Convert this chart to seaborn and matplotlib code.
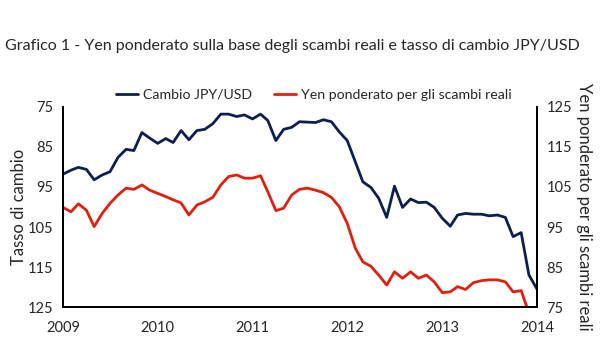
import matplotlib
matplotlib.use("Agg")
import matplotlib.pyplot as plt
import matplotlib.dates as mdates
import seaborn as sns
import pandas as pd

# monthly data, Jan 2009 - Jan 2014
cambio_jpy_usd = [91.8, 90.8, 90.1, 90.6, 93.2, 92.0, 91.2, 87.6, 85.6, 85.9,
                  81.4, 82.8, 84.1, 82.9, 83.9, 80.9, 83.2, 80.9, 80.6, 79.2,
                  76.8, 76.8, 77.4, 77.0, 78.0, 76.8, 78.4, 83.4, 80.6, 80.1,
                  78.7, 78.8, 78.9, 78.2, 78.7, 81.2, 83.4, 88.7, 93.7, 95.1,
                  97.8, 102.6, 94.8, 100.1, 98.0, 98.9, 98.8, 100.1, 102.8, 104.8,
                  102.0, 101.6, 101.8, 101.8, 102.2, 102.0, 102.6, 107.4, 106.4, 117.0,
                  120.5]
yen_ponderato = [99.9, 98.8, 100.8, 99.2, 95.1, 98.4, 100.9, 103.0, 104.7, 104.4,
                 105.5, 104.2, 103.4, 102.6, 101.8, 101.0, 98.0, 100.5, 101.3, 102.4,
                 105.5, 107.6, 108.0, 107.2, 107.2, 107.8, 103.8, 99.1, 99.7, 103.0,
                 104.4, 104.7, 104.2, 103.6, 102.4, 100.1, 95.9, 89.7, 86.3, 85.2,
                 83.0, 80.5, 83.8, 82.2, 83.8, 82.2, 83.0, 81.3, 78.6, 78.8,
                 80.1, 79.4, 81.1, 81.6, 81.8, 81.8, 81.3, 78.8, 79.1, 73.5]
date_blu = pd.date_range("2009-01-01", periods=len(cambio_jpy_usd), freq="MS")
date_rosso = date_blu[:len(yen_ponderato)]
anni = [2009, 2010, 2011, 2012, 2013, 2014]
tick_sx = [75, 85, 95, 105, 115, 125]

sns.set_style("white")
plt.rcParams["font.family"] = ["Lato", "DejaVu Sans"]

blu = "#0d1f4f"
rosso = "#e0200f"

fig, ax = plt.subplots(figsize=(6, 3.6), dpi=100)
fig.subplots_adjust(left=0.105, right=0.895, bottom=0.147, top=0.703)
ax2 = ax.twinx()

sns.lineplot(x=date_blu, y=cambio_jpy_usd, ax=ax, color=blu, lw=2.0,
             label="Cambio JPY/USD", legend=False)
sns.lineplot(x=date_rosso, y=yen_ponderato, ax=ax2, color=rosso, lw=2.0,
             label="Yen ponderato per gli scambi reali", legend=False)

ax.set_ylim(125, 75)
ax.set_yticks(tick_sx)
ax2.set_ylim(75, 125)
ax2.set_yticks(tick_sx)
ax.set_xlim(pd.Timestamp("2009-01-01"), pd.Timestamp("2014-01-01"))
ax.set_xticks([pd.Timestamp(f"{a}-01-01") for a in anni])
ax.xaxis.set_major_formatter(mdates.DateFormatter("%Y"))

for a in (ax, ax2):
    a.tick_params(length=0, labelsize=10.5, pad=7)
    a.grid(False)
    for s in a.spines.values():
        s.set_color("black")
        s.set_linewidth(1.3)
    a.spines["top"].set_visible(False)
ax.tick_params(axis="x", pad=10)

ax.set_ylabel("Tasso di cambio", fontsize=12, labelpad=0.5)
ax2.set_ylabel("Yen ponderato per gli scambi reali", fontsize=12, rotation=-90, labelpad=14)
ax.set_xlabel("")

titolo = fig.text(0.008, 0.872,
                  "Grafico 1 - Yen ponderato sulla base degli scambi reali e tasso di cambio JPY/USD",
                  fontsize=14, va="center", ha="left")
# shrink the title to the reference width (~580 px)
fig.canvas.draw()
w = titolo.get_window_extent().width
titolo.set_fontsize(14 * 580 / w)

h1, l1 = ax.get_legend_handles_labels()
h2, l2 = ax2.get_legend_handles_labels()
fig.legend(h1 + h2, l1 + l2, loc="center", bbox_to_anchor=(0.523, 0.737), ncol=2,
           frameon=False, fontsize=10.2, handlelength=1.6, handletextpad=0.35, columnspacing=1.5)

fig.savefig("out.png", dpi=100)
